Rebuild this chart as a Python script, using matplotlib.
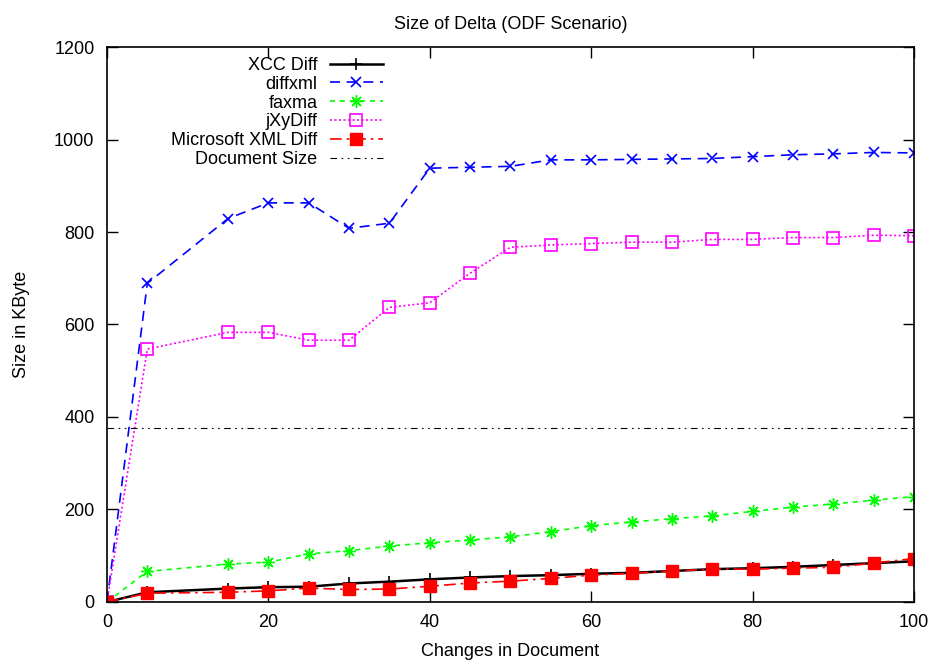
import matplotlib
matplotlib.use("Agg")
import matplotlib.pyplot as plt

plt.rcParams['font.family'] = ['Liberation Sans', 'DejaVu Sans']

changes = [0, 5, 15, 20, 25, 30, 35, 40, 45, 50, 55, 60, 65, 70, 75, 80, 85, 90, 95, 100]

xcc_diff = [0, 21, 29, 32, 33, 40, 44, 49, 53, 56, 58, 61, 63, 67, 71, 73, 76, 80, 84, 88]
diffxml = [0, 689, 829, 863, 863, 808, 819, 938, 940, 942, 956, 956, 957, 958, 959, 963, 967, 969, 972, 971]
faxma = [0, 66, 82, 86, 104, 111, 121, 128, 134, 141, 152, 165, 173, 180, 186, 196, 205, 212, 220, 228]
jxydiff = [0, 547, 583, 583, 566, 566, 637, 647, 711, 767, 772, 775, 778, 778, 784, 784, 788, 788, 793, 792]
ms_xml_diff = [0, 19, 21, 24, 30, 27, 28, 34, 41, 45, 51, 58, 62, 67, 71, 71, 73, 75, 84, 94]
document_size = 376

x_ticks = [0, 20, 40, 60, 80, 100]
y_ticks = [0, 200, 400, 600, 800, 1000, 1200]

fs = 13
fig = plt.figure(figsize=(9.35, 6.64), dpi=100)
ax = fig.add_axes([0.1144, 0.0934, 0.8631, 0.8358])

ax.plot(changes, xcc_diff, color='black', lw=1.8, marker='+', ms=9, mew=1.2,
        label='XCC Diff')
ax.plot(changes, diffxml, color='#0000ff', lw=1.2, ls=(0, (6, 4)), marker='x',
        ms=7, mew=1.2, label='diffxml')
ax.plot(changes, faxma, color='#00ff00', lw=1.2, ls=(0, (3, 3)), marker=(8, 2, 0),
        ms=9, mew=1.0, label='faxma')
ax.plot(changes, jxydiff, color='#ff00ff', lw=1.2, ls=(0, (1.2, 1.5)), marker='s',
        ms=8, mew=1.2, mfc='none', label='jXyDiff')
ax.plot(changes, ms_xml_diff, color='#ff0000', lw=1.2, ls=(0, (7, 3, 1.5, 3)),
        marker='s', ms=8, mew=1.0, label='Microsoft XML Diff')
ax.plot([changes[0], changes[-1]], [document_size, document_size], color='black',
        lw=0.8, ls=(0, (6, 4, 1.5, 4, 1.5, 4)), label='Document Size')

ax.set_xlim(0, 100)
ax.set_ylim(0, 1200)
ax.set_xticks(x_ticks)
ax.set_yticks(y_ticks)
ax.tick_params(direction='in', length=8, width=1, top=True, right=True,
               labelsize=fs, pad=9)
for s in ax.spines.values():
    s.set_linewidth(1.2)

ax.set_title('Size of Delta (ODF Scenario)', fontsize=fs, pad=13)
ax.set_xlabel('Changes in Document', fontsize=fs, labelpad=8)
ax.set_ylabel('Size in KByte', fontsize=fs, labelpad=17)

leg = ax.legend(loc='upper right', bbox_to_anchor=(0.342, 0.982), frameon=False,
                markerfirst=False, fontsize=fs, handlelength=2.95,
                handletextpad=0.67, labelspacing=0.1, borderaxespad=0,
                borderpad=0)
for col in leg._legend_handle_box.get_children():
    col.align = 'right'

fig.savefig('out.png', dpi=100)
